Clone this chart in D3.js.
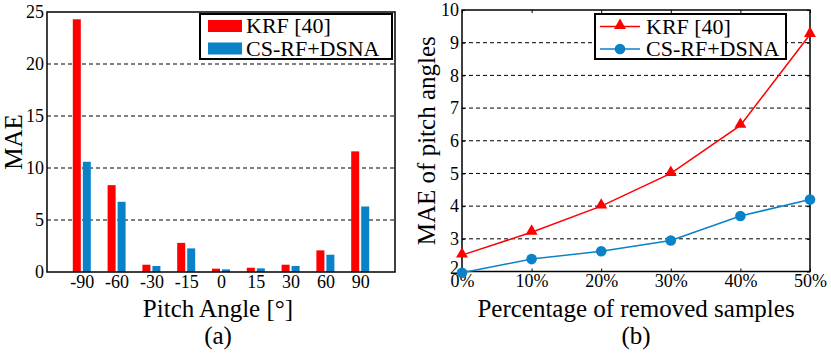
<!DOCTYPE html>
<html>
<head>
<meta charset="utf-8">
<script src="https://cdn.jsdelivr.net/npm/d3@7"></script>
<style>
    body { margin: 0; background: #fff; }
    svg { display: block; font-family: "Liberation Serif", "Times New Roman", serif; }
</style>
</head>
<body>
<svg id="chart" width="831" height="355"></svg>
<script>
// (a) bar chart
const pitchAngles = ['-90', '-60', '-30', '-15', '0', '15', '30', '60', '90'];
const krfBarMae = [24.3, 8.35, 0.7, 2.8, 0.32, 0.41, 0.7, 2.08, 11.6];
const csrfBarMae = [10.6, 6.75, 0.58, 2.27, 0.25, 0.35, 0.58, 1.66, 6.3];
const barTicks = [0, 5, 10, 15, 20, 25];
const barGrid = [5, 10, 15, 20];

// (b) line chart
const removedPct = [0, 10, 20, 30, 40, 50];
const krfLineMae = [2.5, 3.2, 4.0, 5.0, 6.47, 9.25];
const csrfLineMae = [1.96, 2.38, 2.62, 2.95, 3.7, 4.2];
const lineTicks = [2, 3, 4, 5, 6, 7, 8, 9, 10];
const lineGrid = [3, 4, 5, 6, 7, 8, 9];

const seriesNames = ['KRF [40]', 'CS-RF+DSNA'];
const seriesColors = ['#ff0000', '#0a82c8'];
const serif = '"Liberation Serif", "Times New Roman", serif';

const svg = d3.select('#chart');

function styleAxis (g, size) {
    g.attr('font-family', serif).attr('font-size', size);
    g.select('.domain').remove();
    g.selectAll('text').attr('fill', '#000').attr('font-family', serif);
    g.selectAll('line').attr('stroke', '#000');
}

function dashedGrid (g, values, x0, x1, y) {
    g.selectAll('line.grid')
        .data(values)
        .enter()
        .append('line')
            .attr('class', 'grid')
            .attr('x1', x0)
            .attr('x2', x1)
            .attr('y1', d => y(d))
            .attr('y2', d => y(d))
            .attr('stroke', '#000')
            .attr('stroke-width', 1)
            .attr('stroke-dasharray', '4,3');
}

function frame (g, x0, x1, y0, y1) {
    g.append('rect')
        .attr('x', x0)
        .attr('y', y0)
        .attr('width', x1 - x0)
        .attr('height', y1 - y0)
        .attr('fill', 'none')
        .attr('stroke', '#000')
        .attr('stroke-width', 1.5);
}

/* ---------- (a) ---------- */
{
    const x = d3.scaleLinear().domain([0, 10]).range([47, 395]);
    const y = d3.scaleLinear().domain([0, 25]).range([272, 12]);
    const g = svg.append('g');

    dashedGrid(g, barGrid, x(0), x(10), y);

    const groups = g.selectAll('.bar-group')
        .data(pitchAngles.map((a, i) => ({ angle: a, i: i, values: [krfBarMae[i], csrfBarMae[i]] })))
        .enter()
        .append('g')
            .attr('class', 'bar-group');

    groups.selectAll('rect')
        .data(d => d.values.map((v, s) => ({ v: v, s: s, c: x(d.i + 1) })))
        .enter()
        .append('rect')
            .attr('x', d => d.s == 0 ? d.c - 9 : d.c + 1)
            .attr('y', d => y(d.v))
            .attr('width', 8)
            .attr('height', d => y(0) - y(d.v))
            .attr('fill', d => seriesColors[d.s]);

    frame(g, x(0), x(10), y(25), y(0));

    g.append('g')
        .attr('transform', `translate(${x(0)},0)`)
        .call(d3.axisLeft(y).tickValues(barTicks).tickSize(0).tickPadding(3))
        .call(a => styleAxis(a, 18));

    const xAxis = d3.axisBottom(d3.scaleLinear().domain([0, 10]).range([x(0), x(10)]))
        .tickValues(d3.range(1, 10))
        .tickFormat(d => pitchAngles[d - 1])
        .tickSize(0)
        .tickPadding(3);

    g.append('g')
        .attr('transform', `translate(0,${y(0)})`)
        .call(xAxis)
        .call(a => styleAxis(a, 18));

    g.append('text')
        .attr('x', (x(0) + x(10)) / 2 - 3)
        .attr('y', 317)
        .attr('text-anchor', 'middle')
        .attr('font-size', 25)
        .text('Pitch Angle [°]');

    g.append('text')
        .attr('x', (x(0) + x(10)) / 2 - 3)
        .attr('y', 344)
        .attr('text-anchor', 'middle')
        .attr('font-size', 25)
        .text('(a)');

    g.append('text')
        .attr('transform', `translate(22,${(y(0) + y(25)) / 2}) rotate(-90)`)
        .attr('text-anchor', 'middle')
        .attr('font-size', 25)
        .text('MAE');

    // legend
    const lg = g.append('g').attr('transform', 'translate(200,14)');
    lg.append('rect')
        .attr('width', 192)
        .attr('height', 45)
        .attr('fill', '#fff')
        .attr('stroke', '#000')
        .attr('stroke-width', 2);
    seriesNames.forEach((name, s) => {
        lg.append('rect')
            .attr('x', 8)
            .attr('y', 6 + s * 22.5)
            .attr('width', 34)
            .attr('height', 12)
            .attr('fill', seriesColors[s]);
        lg.append('text')
            .attr('x', 46)
            .attr('y', 19 + s * 22.5)
            .attr('font-size', 22)
            .text(name);
    });
}

/* ---------- (b) ---------- */
{
    const x = d3.scaleLinear().domain([0, 50]).range([462, 810]);
    const y = d3.scaleLinear().domain([2, 10]).range([271.5, 10]);
    const g = svg.append('g');

    dashedGrid(g, lineGrid, x(0), x(50), y);

    // inward ticks on all four sides
    g.append('g')
        .attr('transform', `translate(0,${y(10)})`)
        .call(d3.axisTop(x).tickValues(removedPct).tickSizeInner(-3).tickSizeOuter(0).tickFormat(''))
        .call(a => styleAxis(a, 18));
    g.append('g')
        .attr('transform', `translate(${x(50)},0)`)
        .call(d3.axisRight(y).tickValues(lineTicks).tickSizeInner(-3).tickSizeOuter(0).tickFormat(''))
        .call(a => styleAxis(a, 18));

    g.append('g')
        .attr('transform', `translate(0,${y(2)})`)
        .call(d3.axisBottom(x).tickValues(removedPct).tickSizeInner(-3).tickSizeOuter(0).tickPadding(3).tickFormat(d => d + '%'))
        .call(a => styleAxis(a, 18));

    g.append('g')
        .attr('transform', `translate(${x(0)},0)`)
        .call(d3.axisLeft(y).tickValues(lineTicks).tickSizeInner(-3).tickSizeOuter(0).tickPadding(3))
        .call(a => styleAxis(a, 18))
        .call(a => a.selectAll('text').filter(d => d == 2).attr('y', -4));

    frame(g, x(0), x(50), y(10), y(2));

    const line = d3.line()
        .x((d, i) => x(removedPct[i]))
        .y(d => y(d));

    const series = [krfLineMae, csrfLineMae];
    const triangle = d3.symbol().type(d3.symbolTriangle).size(62);

    series.forEach((vals, s) => {
        g.append('path')
            .datum(vals)
            .attr('d', line)
            .attr('fill', 'none')
            .attr('stroke', seriesColors[s])
            .attr('stroke-width', 1.5);

        const marks = g.selectAll(`.mark-${s}`)
            .data(vals)
            .enter();

        if (s == 0) {
            marks.append('path')
                .attr('class', `mark-${s}`)
                .attr('transform', (d, i) => `translate(${x(removedPct[i])},${y(d) - 1})`)
                .attr('d', triangle)
                .attr('fill', seriesColors[s]);
        } else {
            marks.append('circle')
                .attr('class', `mark-${s}`)
                .attr('cx', (d, i) => x(removedPct[i]))
                .attr('cy', d => y(d))
                .attr('r', 5.3)
                .attr('fill', seriesColors[s]);
        }
    });

    g.append('text')
        .attr('x', (x(0) + x(50)) / 2)
        .attr('y', 317)
        .attr('text-anchor', 'middle')
        .attr('font-size', 25)
        .text('Percentage of removed samples');

    g.append('text')
        .attr('x', (x(0) + x(50)) / 2)
        .attr('y', 344)
        .attr('text-anchor', 'middle')
        .attr('font-size', 25)
        .text('(b)');

    g.append('text')
        .attr('transform', `translate(435,${(y(2) + y(10)) / 2}) rotate(-90)`)
        .attr('text-anchor', 'middle')
        .attr('font-size', 25)
        .text('MAE of pitch angles');

    // legend
    const lg = g.append('g').attr('transform', 'translate(595,14)');
    lg.append('rect')
        .attr('width', 191)
        .attr('height', 45)
        .attr('fill', '#fff')
        .attr('stroke', '#000')
        .attr('stroke-width', 2);
    seriesNames.forEach((name, s) => {
        const cy = 12.5 + s * 22.5;
        lg.append('line')
            .attr('x1', 5)
            .attr('x2', 45)
            .attr('y1', cy)
            .attr('y2', cy)
            .attr('stroke', seriesColors[s])
            .attr('stroke-width', 1.5);
        if (s == 0) {
            lg.append('path')
                .attr('transform', `translate(25,${cy - 1})`)
                .attr('d', triangle)
                .attr('fill', seriesColors[s]);
        } else {
            lg.append('circle')
                .attr('cx', 25)
                .attr('cy', cy)
                .attr('r', 5.3)
                .attr('fill', seriesColors[s]);
        }
        lg.append('text')
            .attr('x', 51)
            .attr('y', cy + 7)
            .attr('font-size', 22)
            .text(name);
    });
}
</script>
</body>
</html>
